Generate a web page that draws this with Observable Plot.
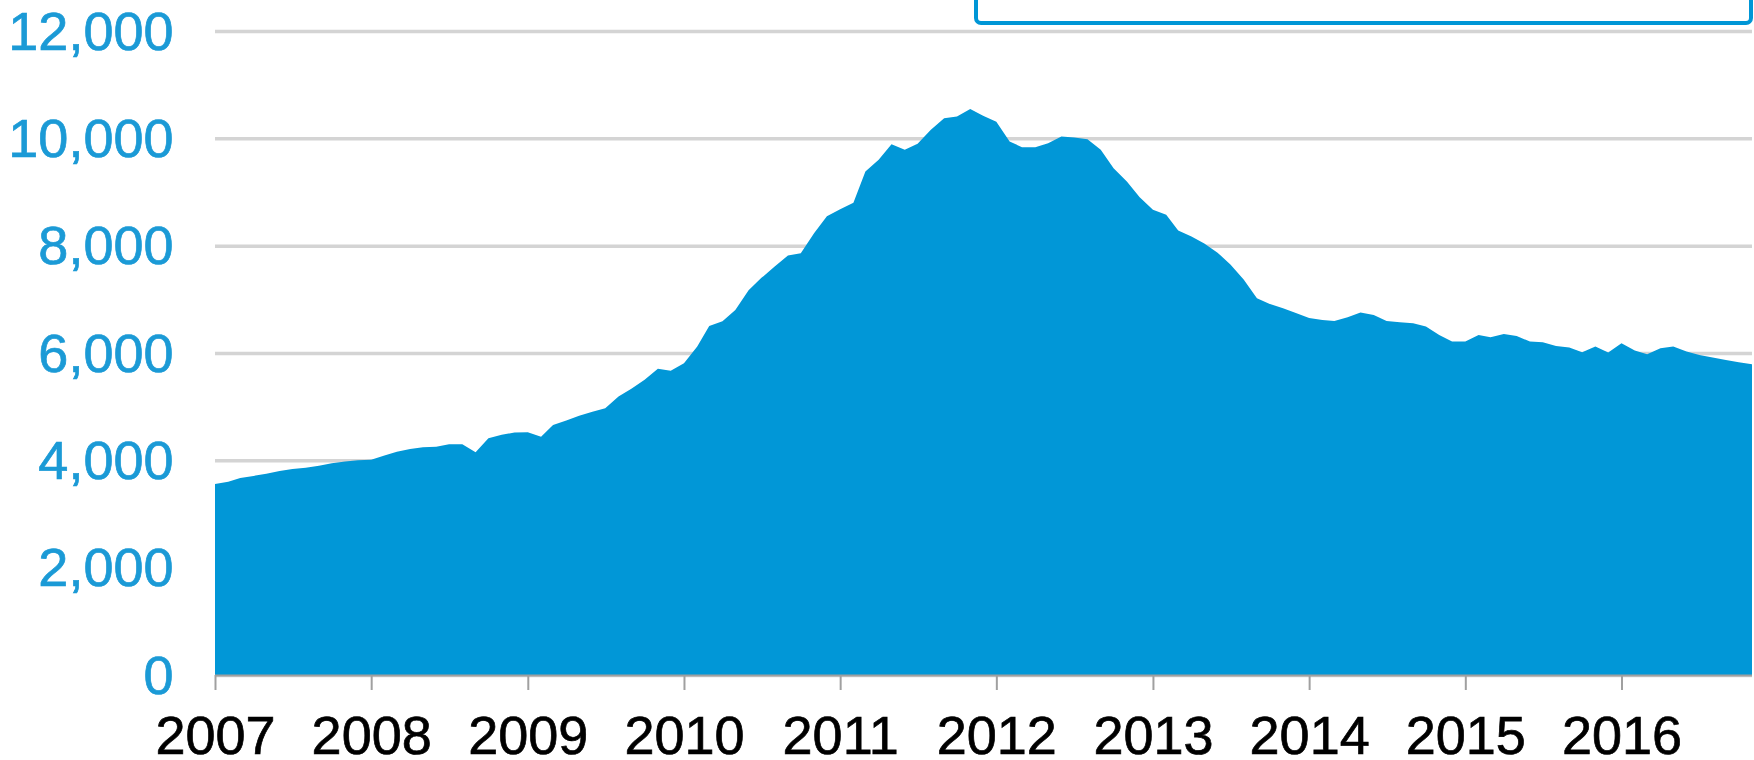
<!DOCTYPE html>
<html>
<head>
<meta charset="utf-8">
<script src="https://cdn.jsdelivr.net/npm/d3@7"></script>
<script src="https://cdn.jsdelivr.net/npm/@observablehq/plot@0.6"></script>
<style>
  html, body { margin: 0; padding: 0; background: #fff; }
  #wrap { position: relative; width: 1754px; height: 760px; overflow: hidden; }
  #legendBox { position: absolute; left: 974px; top: -20px; width: 779px; height: 45px;
    box-sizing: border-box; border: 4.5px solid #0096d6; border-radius: 7px; background: #fff; }
  #chart g[aria-label="y-axis tick label"] { stroke: #1b9ad6; stroke-width: 0.7px; }
  #chart g[aria-label="x-axis tick label"] { stroke: #000; stroke-width: 0.7px; }
</style>
</head>
<body>
<div id="wrap"><div id="chart"></div><div id="legendBox"></div></div>
<script>
// Monthly values, January to December of each year
const years = [2007, 2008, 2009, 2010, 2011, 2012, 2013, 2014, 2015, 2016];
const values2007 = [3560, 3600, 3670, 3710, 3750, 3800, 3840, 3860, 3900, 3945, 3980, 4000];
const values2008 = [4010, 4090, 4160, 4210, 4245, 4255, 4300, 4300, 4150, 4410, 4475, 4520];
const values2009 = [4525, 4440, 4660, 4740, 4830, 4905, 4970, 5190, 5340, 5500, 5705, 5670];
const values2010 = [5810, 6120, 6505, 6590, 6800, 7170, 7400, 7610, 7816, 7860, 8233, 8550];
const values2011 = [8680, 8800, 9380, 9600, 9890, 9785, 9900, 10160, 10375, 10405, 10545, 10420];
const values2012 = [10310, 9940, 9836, 9836, 9910, 10035, 10015, 9985, 9786, 9444, 9195, 8904];
const values2013 = [8667, 8574, 8282, 8170, 8040, 7870, 7650, 7370, 7020, 6915, 6835, 6745];
const values2014 = [6650, 6617, 6598, 6665, 6753, 6710, 6598, 6574, 6555, 6492, 6337, 6213];
const values2015 = [6213, 6337, 6294, 6356, 6319, 6213, 6201, 6132, 6101, 6015, 6119, 6008];
const values2016 = [6182, 6045, 5977, 6089, 6119, 6026, 5964, 5914, 5871, 5828, 5791];
const yTicks = [0, 2000, 4000, 6000, 8000, 10000, 12000];

const byYear = [values2007, values2008, values2009, values2010, values2011,
                values2012, values2013, values2014, values2015, values2016];
const data = [];
byYear.forEach((arr, i) => arr.forEach((v, m) => data.push({date: new Date(Date.UTC(years[i], m, 1)), value: v})));
const xTicks = years.map(y => new Date(Date.UTC(y, 0, 1)));

const chart = Plot.plot({
  width: 1754,
  height: 760,
  marginLeft: 215,
  marginRight: 2,
  marginTop: 31,
  marginBottom: 85,
  style: {fontFamily: "'Liberation Sans', Arial, sans-serif", fontSize: "54px", background: "#fff"},
  x: {type: "utc", domain: [data[0].date, data[data.length - 1].date], label: null},
  y: {domain: [0, 12000], label: null},
  marks: [
    Plot.gridY(yTicks, {stroke: "#d4d4d4", strokeOpacity: 1, strokeWidth: 3.5}),
    Plot.areaY(data, {x: "date", y: "value", fill: "#0197d7"}),
    Plot.ruleY([0], {stroke: "#a0a0a0", strokeWidth: 2}),
    Plot.axisX(xTicks, {tickSize: 15, tickPadding: 25, stroke: "#a0a0a0", strokeWidth: 2,
      fill: "#000", fontSize: 54, tickFormat: d3.utcFormat("%Y"), label: null}),
    Plot.axisY(yTicks, {tickSize: 0, tickPadding: 42, fill: "#1b9ad6", fontSize: 54,
      tickFormat: d3.format(","), dy: 1, label: null})
  ]
});
document.getElementById("chart").appendChild(chart);
</script>
</body>
</html>
